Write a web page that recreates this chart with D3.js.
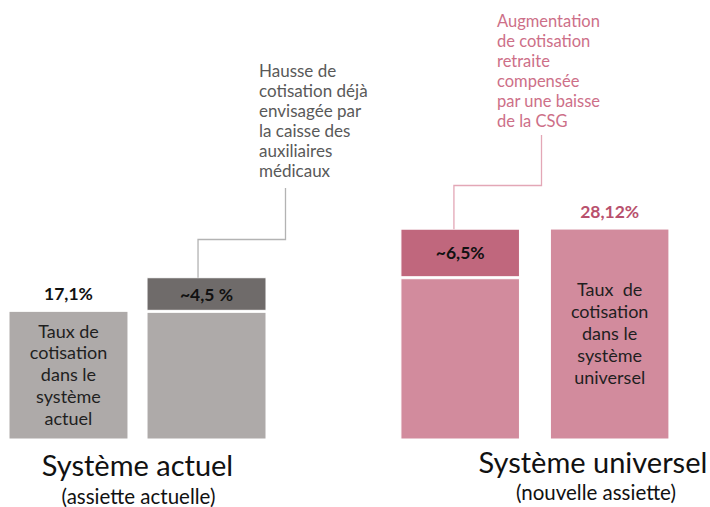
<!DOCTYPE html>
<html>
<head>
<meta charset="utf-8">
<script src="https://cdn.jsdelivr.net/npm/d3@7"></script>
<style>
  body { margin: 0; background: #fff; }
  svg { display: block; font-family: Lato, "Open Sans", sans-serif; }
</style>
</head>
<body>
<div id="chart"></div>
<script>
// data
var groups = ["Système actuel", "Système universel"];
var groupSubtitles = ["(assiette actuelle)", "(nouvelle assiette)"];
var bars = ["actuel", "actuel-hausse", "universel-hausse", "universel"];
var barGroup = [0, 0, 1, 1];
var baseValues = [17.1, 17.1, 21.6, 28.12];
var topValues = [0, 4.5, 6.5, 0];
var valueLabels = ["17,1%", "~4,5 %", "~6,5%", "28,12%"];
var innerLabels = [
  ["Taux de", "cotisation", "dans le", "système", "actuel"],
  [],
  [],
  ["Taux  de", "cotisation", "dans le", "système", "universel"]
];
var noteGris = ["Hausse de", "cotisation déjà", "envisagée par", "la caisse des", "auxiliaires", "médicaux"];
var noteRose = ["Augmentation", "de cotisation", "retraite", "compensée", "par une baisse", "de la CSG"];

var width = 710, height = 507;
var baseY = 439;

var baseColor = ["#aeaaa9", "#aeaaa9", "#d28b9d", "#d28b9d"];
var topColor = ["#6f6b6a", "#6f6b6a", "#c0677d", "#c0677d"];
var labelColor = ["#111", "#111", "#111", "#b8506d"];

var svg = d3.select("#chart").append("svg")
    .attr("width", width)
    .attr("height", height);

var x0 = d3.scaleBand().domain(groups).range([9, 669]).paddingInner(0.316);
// the two groups are not spaced quite the same in the original
var groupSpan = [257, 268];
var innerPad = [0.138, 0.207];
var x1 = groupSpan.map(function(w, k) {
  return d3.scaleBand().domain([0, 1]).range([0, w]).paddingInner(innerPad[k]);
});

function barX(i) { return x0(groups[barGroup[i]]) + x1[barGroup[i]](i % 2); }
function barW(i) { return x1[barGroup[i]].bandwidth(); }

var y = d3.scaleLinear().domain([0, 30]).range([baseY, baseY - 224]);

var idx = d3.range(bars.length);

// lower segments
svg.selectAll("rect.base")
    .data(idx)
    .enter()
    .append("rect")
    .attr("class", "base")
    .attr("x", function(i) { return barX(i); })
    .attr("y", function(i) { return y(baseValues[i]) + (topValues[i] ? 1 : 0); })
    .attr("width", function(i) { return barW(i); })
    .attr("height", function(i) { return y(0) - y(baseValues[i]) - (topValues[i] ? 1 : 0); })
    .style("fill", function(i) { return baseColor[i]; })
    .style("stroke", "#fff")
    .style("stroke-width", 1);

// upper segments
svg.selectAll("rect.top")
    .data(idx.filter(function(i) { return topValues[i] > 0; }))
    .enter()
    .append("rect")
    .attr("class", "top")
    .attr("x", function(i) { return barX(i); })
    .attr("y", function(i) { return y(baseValues[i] + topValues[i]); })
    .attr("width", function(i) { return barW(i); })
    .attr("height", function(i) { return y(baseValues[i]) - y(baseValues[i] + topValues[i]) - 1; })
    .style("fill", function(i) { return topColor[i]; })
    .style("stroke", "#fff")
    .style("stroke-width", 1);

// value labels
svg.selectAll("text.val")
    .data(idx)
    .enter()
    .append("text")
    .attr("class", "val")
    .attr("x", function(i) { return barX(i) + barW(i) / 2; })
    .attr("y", function(i) {
      if (topValues[i] > 0) {
        return (y(baseValues[i]) + y(baseValues[i] + topValues[i])) / 2 + 6;
      }
      return y(baseValues[i]) - 11;
    })
    .attr("text-anchor", "middle")
    .style("font-size", "17.5px")
    .style("font-weight", "bold")
    .style("fill", function(i) { return labelColor[i]; })
    .text(function(i) { return valueLabels[i]; });

// text inside bars
idx.forEach(function(i) {
  var lines = innerLabels[i];
  if (!lines.length) return;
  var lh = 21.8;
  var mid = (y(baseValues[i]) + y(0)) / 2;
  var first = mid - (lines.length - 1) * lh / 2 + 6;
  svg.append("g").selectAll("text")
      .data(lines)
      .enter()
      .append("text")
      .attr("x", barX(i) + barW(i) / 2)
      .attr("y", function(d, k) { return first + k * lh; })
      .attr("text-anchor", "middle")
      .style("font-size", "18px")
      .style("white-space", "pre")
      .style("fill", "#1f1f1f")
      .text(function(d) { return d; });
});

// annotations with elbow connectors
function annotate(lines, bar, textX, firstY, size, color, lineColor, stemX, stemTop, elbowY, dx) {
  svg.append("g").selectAll("text")
      .data(lines)
      .enter()
      .append("text")
      .attr("x", textX)
      .attr("y", function(d, k) { return firstY + k * 20; })
      .style("font-size", size)
      .style("fill", color)
      .text(function(d) { return d; });

  var ax = barX(bar) + dx;
  var ay = y(baseValues[bar] + topValues[bar]);
  svg.append("path")
      .attr("d", d3.line()([[stemX, stemTop], [stemX, elbowY], [ax, elbowY], [ax, ay]]))
      .style("fill", "none")
      .style("stroke", lineColor)
      .style("stroke-width", 1.3);
}

annotate(noteGris, 1, 259, 77, "17px", "#595959", "#b3b3b3", 285.5, 188, 239.5, 51);
annotate(noteRose, 2, 497, 27, "16.5px", "#cd6f88", "#e3a7b6", 541.5, 135, 185.5, 53);

// group titles
var titleShift = [0, 58];
svg.selectAll("text.group")
    .data(groups)
    .enter()
    .append("text")
    .attr("class", "group")
    .attr("x", function(d, k) { return x0(d) + groupSpan[k] / 2 + titleShift[k]; })
    .attr("y", function(d, k) { return k ? 473 : 476; })
    .attr("text-anchor", "middle")
    .style("font-size", "29px")
    .style("fill", "#111")
    .text(function(d) { return d; });

svg.selectAll("text.sub")
    .data(groupSubtitles)
    .enter()
    .append("text")
    .attr("class", "sub")
    .attr("x", function(d, k) { return x0(groups[k]) + groupSpan[k] / 2 + titleShift[k] + (k ? 3 : 1); })
    .attr("y", function(d, k) { return k ? 500 : 504; })
    .attr("text-anchor", "middle")
    .style("font-size", "20.5px")
    .style("fill", "#111")
    .text(function(d) { return d; });
</script>
</body>
</html>
